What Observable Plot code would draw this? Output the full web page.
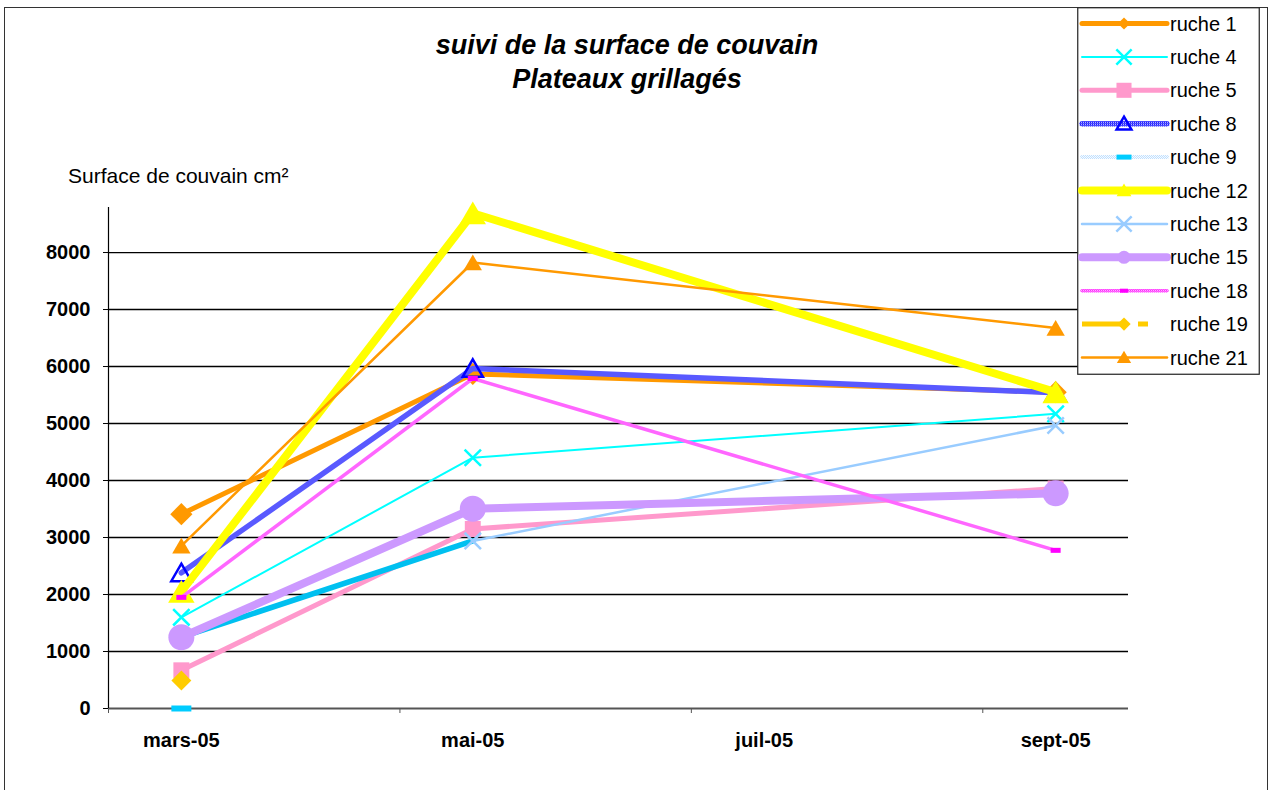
<!DOCTYPE html>
<html><head><meta charset="utf-8">
<script src="https://cdn.jsdelivr.net/npm/d3@7"></script>
<script src="https://cdn.jsdelivr.net/npm/@observablehq/plot@0.6"></script>
<style>
body{margin:0;background:#fff;font-family:"Liberation Sans",Arial,sans-serif;}
#wrap{position:relative;width:1270px;height:790px;overflow:hidden;background:#fff;}
#border{position:absolute;left:4px;top:7px;width:1264px;height:820px;border:1.5px solid #333;box-sizing:border-box;}
#chart{position:absolute;left:0;top:0;}
#title{position:absolute;left:0;width:1254px;top:28px;text-align:center;font-weight:bold;font-style:italic;font-size:27px;line-height:34px;color:#000;}
#ylab{position:absolute;left:68px;top:163px;font-size:21px;line-height:26px;color:#000;}
#legend{position:absolute;left:1077px;top:7px;}
#chart svg text{font-family:"Liberation Sans",Arial,sans-serif;}
</style>
</head><body>
<svg width="0" height="0" style="position:absolute">
<defs>
<pattern id="pat8" width="2" height="2" patternUnits="userSpaceOnUse">
<rect width="2" height="2" fill="#0000ff"/><rect width="1" height="1" fill="#ffffff"/><rect x="1" y="1" width="1" height="1" fill="#6666ff"/>
</pattern>
<pattern id="pat18" width="2" height="2" patternUnits="userSpaceOnUse">
<rect width="2" height="2" fill="#ffffff"/><rect width="1" height="1" fill="#ff00ff"/><rect x="1" y="1" width="1" height="1" fill="#ff00ff"/><rect x="1" width="1" height="1" fill="#ff99ff"/>
</pattern>
<pattern id="pat9" width="2" height="2" patternUnits="userSpaceOnUse">
<rect width="2" height="2" fill="#ffffff"/><rect width="1" height="1" fill="#b8dcff"/><rect x="1" y="1" width="1" height="1" fill="#b8dcff"/>
</pattern>
</defs>
</svg>
<div id="wrap">
<div id="chart"></div>
<div id="border"></div>
<div id="title">suivi de la surface de couvain<br>Plateaux grillagés</div>
<div id="ylab">Surface de couvain cm²</div>
<div id="legend"></div>
</div>
<script>
// ---- data ----
const dates = ["2005-03-01", "2005-05-01", "2005-09-01"];
const tickLabels = ["mars-05", "mai-05", "juil-05", "sept-05"];
const yTicks = [0, 1000, 2000, 3000, 4000, 5000, 6000, 7000, 8000];
const ruches = ["ruche 1", "ruche 4", "ruche 5", "ruche 8", "ruche 9", "ruche 12", "ruche 13", "ruche 15", "ruche 18", "ruche 19", "ruche 21"];
const ruche1 = [3410, 5870, 5550];
const ruche4 = [1600, 4400, 5170];
const ruche5 = [670, 3150, 3860];
const ruche8 = [2380, 5965, 5540];
const ruche9 = [0, null, null];
const ruche12 = [2050, 8690, 5550];
const ruche13 = [1250, 2940, 4965];
const ruche15 = [1250, 3505, 3775];
const ruche18 = [1950, 5790, 2775];
const ruche19 = [490, null, null];
const ruche21 = [2855, 7825, 6675];
const seriesValues = [ruche1, ruche4, ruche5, ruche8, ruche9, ruche12, ruche13, ruche15, ruche18, ruche19, ruche21];

// ---- styles ----
function dash(w, h) { return {draw(ctx) { ctx.rect(-w / 2, -h / 2, w, h); }}; }
const S = {
  "ruche 1":  {stroke: "#ff9900", width: 5, symbol: "diamond2", r: 10, fill: "#ff9900", lr: 5.5},
  "ruche 4":  {stroke: "#00ffff", width: 2, symbol: "times", r: 7.5, fill: "none", mstroke: "#00ffff", msw: 2.5, lr: 7},
  "ruche 5":  {stroke: "#ff99cc", width: 5, symbol: "square", r: 9, fill: "#ff99cc", lr: 8.5},
  "ruche 8":  {stroke: "url(#pat8)", width: 5.5, symbol: "triangle", r: 7.5, fill: "none", mstroke: "#0000ff", msw: 2.5, lr: 5.5, dy: 2.5},
  "ruche 9":  {stroke: "url(#pat9)", width: 4, symbol: dash(20, 6), ls: dash(15, 5), r: 5, fill: "#00ccff"},
  "ruche 12": {stroke: "#ffff00", width: 8, symbol: "triangle", r: 9.8, fill: "#ffff00", lr: 5.5, dy: 3.5},
  "ruche 13": {stroke: "#99ccff", width: 2.5, symbol: "times", r: 7.5, fill: "none", mstroke: "#99ccff", msw: 2.5, lr: 7},
  "ruche 15": {stroke: "#cc99ff", width: 8, symbol: "circle", r: 13, fill: "#cc99ff", lr: 6.5},
  "ruche 18": {stroke: "url(#pat18)", width: 3.5, symbol: dash(10, 5), ls: dash(8, 4), r: 5, fill: "#ff00ff"},
  "ruche 19": {stroke: "#ffcc00", width: 5, dasharray: "42,14,10,60", symbol: "diamond2", r: 9, fill: "#ffcc00", lr: 6},
  "ruche 21": {stroke: "#ff9900", width: 2.5, symbol: "triangle", r: 6.8, fill: "#ff9900", lr: 5.3, dy: 2.5}
};

const monthIdx = d => { const dt = new Date(d); return (dt.getUTCFullYear() - 2005) * 12 + dt.getUTCMonth() - 2; };
const rows = ruches.flatMap((name, k) =>
  seriesValues[k].map((v, i) => ({ruche: name, x: monthIdx(dates[i]), y: v})).filter(d => d.y != null));

const marks = [
  Plot.ruleY(yTicks.filter(v => v > 0), {stroke: "#000", strokeWidth: 1.3}),
  Plot.ruleY([0], {stroke: "#555", strokeWidth: 1.8}),
  Plot.ruleX([-0.5], {stroke: "#000", strokeWidth: 1.2}),
  Plot.axisY({ticks: yTicks, tickSize: 5, tickPadding: 13, fontSize: 20, fontWeight: "bold", stroke: "#000", label: null, tickFormat: d => String(d)}),
  Plot.axisX({ticks: [-0.5, 1.5, 3.5, 5.5], tickSize: 5, label: null, tickFormat: () => "", stroke: "#555"}),
  Plot.axisX({ticks: [0, 2, 4, 6], tickSize: 0, tickPadding: 24, fontSize: 20, fontWeight: "bold", label: null, tickFormat: d => tickLabels[d / 2]})
];

ruches.forEach(name => {
  const st = S[name];
  const data = rows.filter(d => d.ruche === name);
  if (name === "ruche 13") {
    marks.push(Plot.line(data.slice(0, 2), {x: "x", y: "y", stroke: "#00c0f0", strokeWidth: 5.5}));
    marks.push(Plot.line(data.slice(1), {x: "x", y: "y", stroke: st.stroke, strokeWidth: st.width}));
  } else {
    marks.push(Plot.line(data, {x: "x", y: "y", stroke: st.stroke, strokeWidth: st.width, strokeDasharray: st.dasharray}));
  }
  marks.push(Plot.dot(data, {
    x: "x", y: "y", symbol: st.symbol, r: st.r, dy: st.dy || 0,
    fill: st.fill, stroke: st.mstroke || "none", strokeWidth: st.msw || 0
  }));
});

const chart = Plot.plot({
  width: 1270, height: 790,
  marginLeft: 108, marginRight: 142, marginTop: 207, marginBottom: 82,
  x: {type: "linear", domain: [-0.5, 6.5], axis: null, label: null},
  y: {domain: [0, 8790], axis: null, label: null},
  style: {fontFamily: "Liberation Sans, Arial, sans-serif", color: "#000", background: "transparent"},
  marks
});
document.getElementById("chart").appendChild(chart);

// ---- legend ----
const symMap = {diamond2: d3.symbolDiamond2, times: d3.symbolTimes, square: d3.symbolSquare, triangle: d3.symbolTriangle, circle: d3.symbolCircle};
const lw = 183, lh = 368;
const lg = d3.select("#legend").append("svg").attr("width", lw).attr("height", lh);
lg.append("rect").attr("x", 0.75).attr("y", 0.75).attr("width", lw - 1.5).attr("height", lh - 1.5)
  .attr("fill", "#fff").attr("stroke", "#222").attr("stroke-width", 1.2);
ruches.forEach((name, i) => {
  const st = S[name];
  const cy = 16.5 + i * 33.4;
  const g = lg.append("g").attr("transform", `translate(0,${cy})`);
  g.append("line").attr("x1", 5).attr("x2", 90).attr("y1", 0).attr("y2", 0)
    .attr("stroke", st.stroke).attr("stroke-width", st.width)
    .attr("stroke-linecap", st.dasharray ? "butt" : "round")
    .attr("stroke-dasharray", st.dasharray || null);
  const symType = typeof st.symbol === "string" ? symMap[st.symbol] : st.ls;
  const r = st.lr || st.r;
  g.append("path").attr("transform", `translate(47,${st.dy ? 1.5 : 0})`)
    .attr("d", d3.symbol(symType, Math.PI * r * r)())
    .attr("fill", st.fill).attr("stroke", st.mstroke || "none").attr("stroke-width", st.msw || 0);
  g.append("text").attr("x", 93).attr("y", 0).attr("dy", "0.35em")
    .attr("font-size", 20).attr("font-family", "Liberation Sans, Arial, sans-serif").attr("fill", "#000")
    .text(name);
});
</script>
</body></html>
